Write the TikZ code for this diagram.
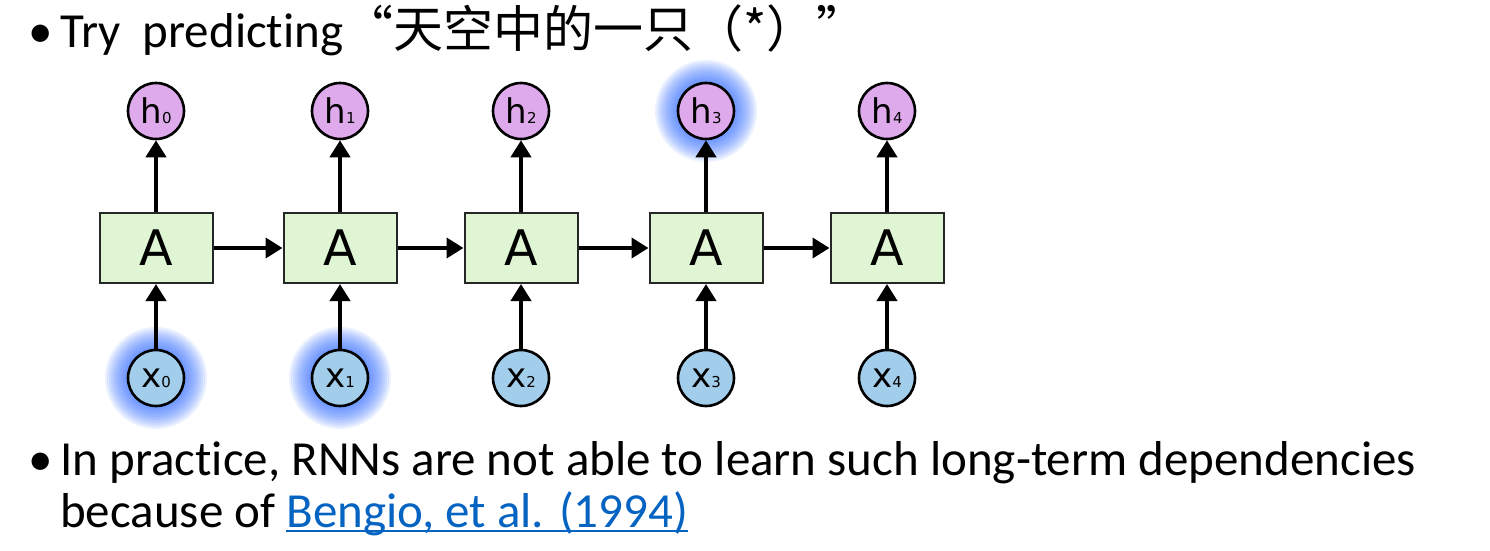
\documentclass[tikz,border=0pt]{standalone}
\usepackage{fontspec}
\setmainfont[RawFeature={-liga;-dlig}]{Carlito}
\newfontfamily\cjk{Noto Sans CJK SC}
\newfontfamily\dv{DejaVu Sans}
\usetikzlibrary{arrows.meta}
\definecolor{hfill}{RGB}{222,170,235}
\definecolor{xfill}{RGB}{163,206,235}
\definecolor{boxfill}{RGB}{224,245,211}
\definecolor{glowblue}{RGB}{40,100,255}
\definecolor{linkblue}{RGB}{5,99,193}
\tikzset{
  cell/.style={draw=black!85, line width=2pt, fill=boxfill, minimum width=113pt, minimum height=70pt, inner sep=0pt, font=\dv\fontsize{49}{49}\selectfont},
  hcirc/.style={circle, draw=black, line width=2.6pt, fill=hfill, minimum size=56pt, inner sep=0pt},
  xcirc/.style={circle, draw=black, line width=2.6pt, fill=xfill, minimum size=56pt, inner sep=0pt},
  conn/.style={line width=4pt, -{Triangle[length=17pt,width=20pt]}},
  bigtxt/.style={inner sep=0pt, anchor=base west, font=\fontsize{49}{52}\selectfont},
  glow/.pic={\foreach \r in {29,31,...,51} \fill[glowblue, opacity=0.09] (0,0) circle (\r pt);}
}
\newcommand{\lab}[2]{{\dv\fontsize{34}{34}\selectfont #1}{\dv\fontsize{15}{15}\selectfont #2}}
\newcommand{\linkul}[1]{{\color{linkblue}\setbox0\hbox{#1}\rlap{\rule[-5pt]{\wd0}{2pt}}\box0}}
\begin{document}
\begin{tikzpicture}[x=1pt,y=-1pt]
\useasboundingbox (0,0) rectangle (1490,551);
% glows
\pic at (156,378) {glow};
\pic at (340,378) {glow};
\pic at (706,111) {glow};
% cells
\foreach \i/\xx in {0/156,1/340,2/521,3/706,4/887}{
  \node[cell] (a\i) at (\xx,248) {A};
  \node[hcirc] (h\i) at (\xx,111) {\lab{h}{\i}};
  \node[xcirc] (x\i) at (\xx,378) {\lab{x}{\i}};
  \draw[conn] (a\i) -- (h\i);
  \draw[conn] (x\i) -- (a\i);
}
\foreach \i/\j in {0/1,1/2,2/3,3/4}{
  \draw[conn] (a\i) -- (a\j);
}
% text
\node[bigtxt] (b1) at (28,48) {•};
\node[bigtxt] (t1) at (60,48) {Try\ \ predicting{\cjk\fontsize{50}{50}\selectfont “天空中的一只（*）”}};
\node[bigtxt] (b2) at (28,475) {•};
\node[bigtxt] (t2) at (60,475) {In practice, RNNs are not able to learn such long-term dependencies};
\node[bigtxt] (t3) at (60,527) {because of \linkul{Bengio, et al. (1994)}};
\end{tikzpicture}
\end{document}
